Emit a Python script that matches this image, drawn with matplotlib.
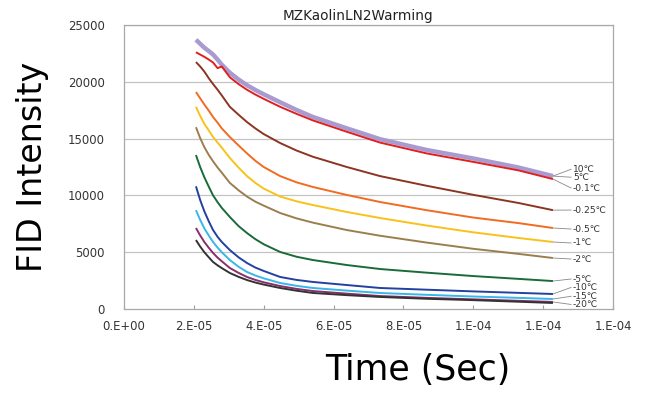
import matplotlib
matplotlib.use("Agg")
import matplotlib.pyplot as plt

# ---- data ----
time_s = [2.06e-5, 2.18e-5, 2.30e-5, 2.43e-5, 2.55e-5, 2.68e-5, 2.80e-5, 3.03e-5,
          3.28e-5, 3.52e-5, 3.76e-5, 4.00e-5, 4.47e-5, 4.94e-5, 5.41e-5, 6.38e-5,
          7.33e-5, 8.66e-5, 1.00e-4, 1.13e-4, 1.228e-4]

s_10C   = [23700, 23350, 23000, 22700, 22400, 21950, 21500, 20800, 20200, 19700, 19280,
           18900, 18200, 17520, 16900, 15900, 14950, 14000, 13250, 12450, 11700]
s_5C    = [22600, 22400, 22200, 21950, 21700, 21200, 21350, 20400, 19800, 19300, 18880,
           18500, 17800, 17180, 16600, 15600, 14650, 13700, 12950, 12200, 11440]
s_m01C  = [21740, 21350, 20900, 20300, 19800, 19300, 18800, 17800, 17100, 16460, 15900,
           15400, 14610, 13950, 13400, 12500, 11700, 10850, 10050, 9330, 8700]
s_m025C = [19100, 18550, 18000, 17450, 16900, 16400, 15900, 15140, 14400, 13700, 13050,
           12500, 11700, 11150, 10740, 10040, 9420, 8700, 8050, 7560, 7130]
s_m05C  = [17800, 17000, 16300, 15700, 15140, 14650, 14200, 13300, 12450, 11700, 11100,
           10600, 9900, 9480, 9150, 8540, 8010, 7350, 6750, 6250, 5900]
s_m1C   = [16000, 15050, 14250, 13550, 13000, 12450, 12000, 11100, 10450, 9900, 9450,
           9100, 8450, 7980, 7600, 6950, 6450, 5850, 5300, 4850, 4490]
s_m2C   = [13550, 12500, 11600, 10750, 10000, 9400, 8900, 8100, 7300, 6690, 6150,
           5700, 5020, 4600, 4310, 3870, 3520, 3200, 2900, 2650, 2460]
s_m5C   = [10800, 9600, 8600, 7700, 6950, 6350, 5900, 5190, 4550, 4050, 3650,
           3350, 2820, 2560, 2380, 2110, 1850, 1700, 1550, 1420, 1320]
s_m10C  = [8700, 7850, 7100, 6450, 5900, 5400, 5000, 4310, 3720, 3260, 2950,
           2700, 2290, 2040, 1850, 1620, 1410, 1250, 1100, 980, 880]
s_m15C  = [7130, 6480, 5900, 5380, 4930, 4520, 4200, 3610, 3180, 2820, 2560,
           2350, 2020, 1770, 1580, 1350, 1140, 980, 850, 720, 620]
s_m20C  = [6070, 5500, 5000, 4540, 4140, 3840, 3600, 3170, 2830, 2550, 2330,
           2150, 1850, 1610, 1410, 1220, 1060, 900, 780, 640, 530]

series = [s_10C, s_5C, s_m01C, s_m025C, s_m05C, s_m1C, s_m2C, s_m5C, s_m10C, s_m15C, s_m20C]
labels = ["10℃", "5℃", "-0.1℃", "-0.25℃", "-0.5℃", "-1℃", "-2℃", "-5℃", "-10℃", "-15℃", "-20℃"]

x_ticks = [0, 2e-5, 4e-5, 6e-5, 8e-5, 1e-4, 1.2e-4, 1.4e-4]
x_ticklabels = ["0.E+00", "2.E-05", "4.E-05", "6.E-05", "8.E-05", "1.E-04", "1.E-04", "1.E-04"]
y_ticks = [0, 5000, 10000, 15000, 20000, 25000]

# ---- styles ----
colors = ["#a99bd0", "#e02020", "#8b3522", "#f26b21", "#f8c21a", "#9b7e4e",
          "#1a6b3a", "#2241a0", "#37b7ea", "#8b2d6b", "#333333"]
widths = [3.2, 1.4, 1.4, 1.4, 1.4, 1.4, 1.4, 1.4, 1.4, 1.4, 1.4]
# label positions (data units) and which curve each leader line points to
label_y = [12300, 11600, 10650, 8710, 7040, 5810, 4400, 2640, 1900, 1120, 400]
leader_from = [0, 0, 1, 2, 3, 4, 5, 6, 7, 8, 9]

fig = plt.figure(figsize=(6.47, 3.95), dpi=100)
W, H = 647, 395
ax = fig.add_axes([124 / W, 1 - 309 / H, (613 - 124) / W, (309 - 25) / H])

for yv in y_ticks[1:]:
    ax.axhline(yv, color="#c4c4c4", lw=0.9, zorder=0)

for i in range(len(series)):
    ax.plot(time_s, series[i], color=colors[i], lw=widths[i], zorder=2 if i else 1.5,
            solid_capstyle="butt", solid_joinstyle="round")

ax.set_xlim(0, 1.4e-4)
ax.set_ylim(0, 25000)
ax.set_xticks(x_ticks)
ax.set_xticklabels(x_ticklabels)
ax.set_yticks(y_ticks)
ax.set_yticklabels([str(v) for v in y_ticks])
ax.tick_params(axis="x", direction="in", length=3, color="#a0a0a0", pad=8,
               labelsize=8.4, labelcolor="#333333")
ax.tick_params(axis="y", length=0, pad=14, labelsize=8.4, labelcolor="#333333")
for sp in ax.spines.values():
    sp.set_color("#a8a8a8")
    sp.set_linewidth(0.9)

# annotations with leader lines
x_end = time_s[-1]
x_text = 1.285e-4
for lab, ly, src in zip(labels, label_y, leader_from):
    y0 = series[src][-1]
    ax.plot([x_end, x_text - 0.05e-5], [y0, ly], color="#888888", lw=0.6, zorder=1,
            clip_on=False)
    ax.text(x_text, ly, lab, fontsize=6.6, va="center", ha="left", color="#333333",
            family=["DejaVu Sans", "Noto Sans CJK JP"])

fig.text(358 / W, 1 - 16 / H, "MZKaolinLN2Warming", ha="center", va="center",
         fontsize=9.8, color="#222222")
fig.text(33 / W, 1 - 167 / H, "FID Intensity", rotation=90, ha="center", va="center",
         fontsize=24, color="black")
fig.text(418 / W, 1 - 370 / H, "Time (Sec)", ha="center", va="center",
         fontsize=25, color="black")

fig.savefig("out.png", dpi=100)
